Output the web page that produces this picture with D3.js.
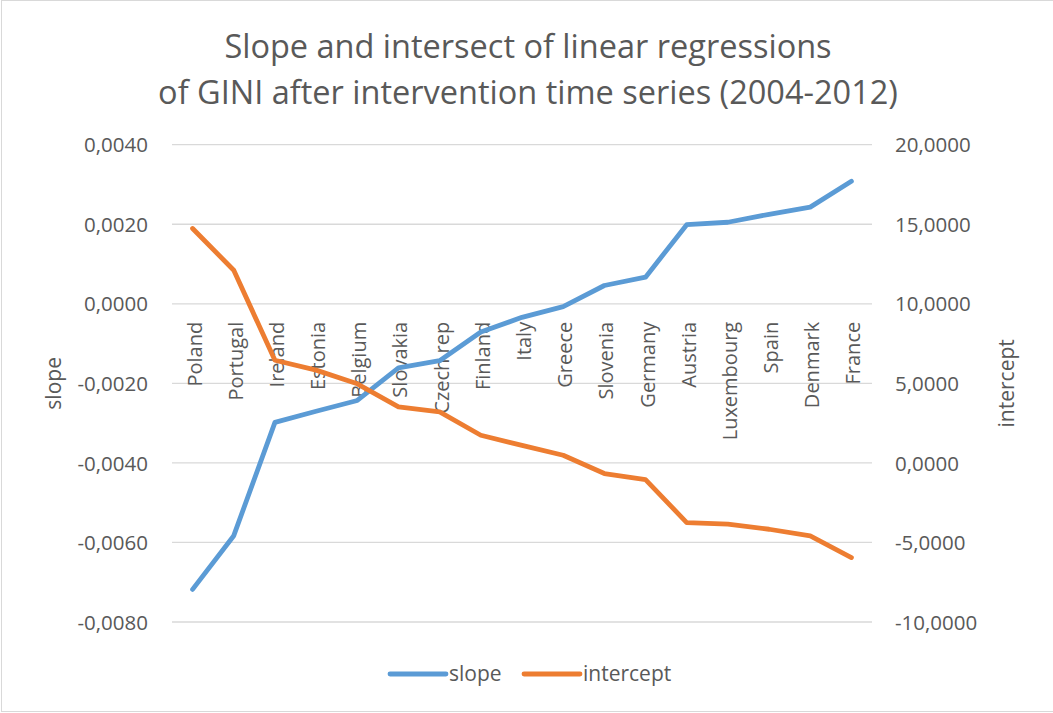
<!DOCTYPE html>
<html>
<head>
<meta charset="utf-8">
<script src="https://cdn.jsdelivr.net/npm/d3@7"></script>
<style>
  html, body { margin: 0; padding: 0; background: #fff; }
  svg { display: block; }
  text { font-family: "Open Sans", "DejaVu Sans", sans-serif; fill: #595959; }
</style>
</head>
<body>
<svg id="chart" width="1053" height="713"></svg>
<script>
// Countries, ordered by slope
const countries = ["Poland", "Portugal", "Ireland", "Estonia", "Belgium", "Slovakia", "Czech rep",
  "Finland", "Italy", "Greece", "Slovenia", "Germany", "Austria", "Luxembourg", "Spain", "Denmark", "France"];

// Slope of each regression (left axis)
const slope = [-0.00718, -0.00583, -0.00298, -0.00270, -0.00243, -0.00161, -0.00143,
  -0.00071, -0.00034, -0.00007, 0.00046, 0.00067, 0.00199, 0.00205, 0.00225, 0.00243, 0.00308];

// Intercept of each regression (right axis)
const intercept = [14.73, 12.11, 6.45, 5.83, 4.97, 3.52, 3.21,
  1.74, 1.10, 0.48, -0.67, -1.05, -3.75, -3.85, -4.17, -4.59, -5.95];

const slopeTicks = [0.004, 0.002, 0, -0.002, -0.004, -0.006, -0.008];
const interceptTicks = [20, 15, 10, 5, 0, -5, -10];

const titleLines = ["Slope and intersect of linear regressions",
  "of GINI after intervention time series (2004-2012)"];

const svg = d3.select("#chart");
const W = 1053, H = 713;
const plot = { left: 172, right: 872, top: 144.7, bottom: 622 };

const fmt4 = d => d3.format(".4f")(d).replace(".", ",").replace("−", "-");

// chart border
svg.append("rect")
  .attr("x", 1.5).attr("y", 0.5)
  .attr("width", W - 1).attr("height", H - 2)
  .attr("fill", "#fff").attr("stroke", "#d9d9d9").attr("stroke-width", 1);

const x = d3.scaleBand().domain(countries).range([plot.left, plot.right]);
const yL = d3.scaleLinear().domain([-0.008, 0.004]).range([plot.bottom, plot.top]);
const yR = d3.scaleLinear().domain([-10, 20]).range([plot.bottom, plot.top]);

// gridlines
svg.append("g")
  .selectAll("line").data(slopeTicks).join("line")
  .attr("x1", plot.left).attr("x2", plot.right)
  .attr("y1", d => yL(d)).attr("y2", d => yL(d))
  .attr("stroke", "#d9d9d9").attr("stroke-width", 1.3);

// left axis
const axL = svg.append("g")
  .attr("transform", `translate(${plot.left},0)`)
  .call(d3.axisLeft(yL).tickValues(slopeTicks).tickFormat(fmt4).tickSize(0).tickPadding(24));
axL.select(".domain").remove();
axL.selectAll("text").style("font-size", "20.5px").attr("dy", "0.35em");

// right axis
const axR = svg.append("g")
  .attr("transform", `translate(${plot.right},0)`)
  .call(d3.axisRight(yR).tickValues(interceptTicks).tickFormat(fmt4).tickSize(0).tickPadding(23));
axR.select(".domain").remove();
axR.selectAll("text").style("font-size", "20.5px").attr("dy", "0.35em");

// category labels, rotated, hung just below the zero line
svg.append("g")
  .selectAll("text").data(countries).join("text")
  .attr("transform", d => `translate(${x(d) + x.bandwidth() / 2 + 9},${yL(0) + 18}) rotate(-90)`)
  .attr("text-anchor", "end")
  .style("font-size", "20px")
  .text(d => d);

// series lines
const lineL = d3.line().x((d, i) => x(countries[i]) + x.bandwidth() / 2).y(d => yL(d));
const lineR = d3.line().x((d, i) => x(countries[i]) + x.bandwidth() / 2).y(d => yR(d));

svg.append("path").datum(slope)
  .attr("d", lineL).attr("fill", "none")
  .attr("stroke", "#5b9bd5").attr("stroke-width", 4.8)
  .attr("stroke-linecap", "round").attr("stroke-linejoin", "round");

svg.append("path").datum(intercept)
  .attr("d", lineR).attr("fill", "none")
  .attr("stroke", "#ed7d31").attr("stroke-width", 4.8)
  .attr("stroke-linecap", "round").attr("stroke-linejoin", "round");

// title
svg.append("g").selectAll("text").data(titleLines).join("text")
  .attr("x", 528).attr("y", (d, i) => 58 + i * 46)
  .attr("text-anchor", "middle")
  .style("font-size", "32.5px")
  .text(d => d);

// axis titles
svg.append("text")
  .attr("transform", `translate(61,${(plot.top + plot.bottom) / 2}) rotate(-90)`)
  .attr("text-anchor", "middle")
  .style("font-size", "21px")
  .text("slope");

svg.append("text")
  .attr("transform", `translate(1014,${(plot.top + plot.bottom) / 2}) rotate(-90)`)
  .attr("text-anchor", "middle")
  .style("font-size", "21px")
  .text("intercept");

// legend
const legend = [
  { name: "slope", color: "#5b9bd5", x: 390 },
  { name: "intercept", color: "#ed7d31", x: 524 }
];
const lg = svg.append("g").selectAll("g").data(legend).join("g")
  .attr("transform", d => `translate(${d.x},674)`);
lg.append("line")
  .attr("x1", 0).attr("x2", 56).attr("y1", 0).attr("y2", 0)
  .attr("stroke", d => d.color).attr("stroke-width", 4.8).attr("stroke-linecap", "round");
lg.append("text")
  .attr("x", 59).attr("dy", "0.35em")
  .style("font-size", "21px")
  .text(d => d.name);
</script>
</body>
</html>
